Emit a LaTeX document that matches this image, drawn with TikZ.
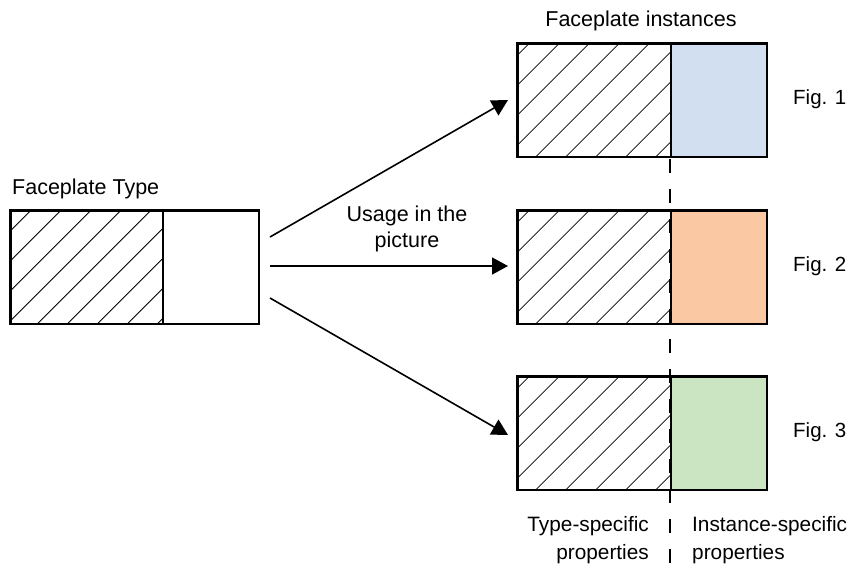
\documentclass[tikz,border=0pt]{standalone}
\usepackage{fontspec}
\setmainfont{Liberation Sans}
\usetikzlibrary{arrows.meta,calc}
\definecolor{instblue}{HTML}{D1DFF0}
\definecolor{instorange}{HTML}{FAC8A3}
\definecolor{instgreen}{HTML}{CBE5C3}
\begin{document}
\begin{tikzpicture}[x=1pt,y=-1pt,
  half/.style={draw=black, line width=1.6pt, inner sep=0pt, anchor=north west, minimum height=113pt},
  typehalf/.style={half, minimum width=152pt},
  insthalf/.style={half, minimum width=96pt},
  hatch/.style={line width=0.8pt},
  conn/.style={line width=1.6pt, -{Triangle[length=16pt,width=17pt]}},
  lbl/.style={font=\fontsize{21.5}{26}\selectfont, inner sep=0pt},
  botlbl/.style={font=\fontsize{20.8}{28}\selectfont, inner sep=0pt},
  figlbl/.style={font=\fontsize{20.5}{25}\selectfont, inner sep=0pt, anchor=west},
  sep/.style={line width=1.4pt, dash pattern=on 14pt off 16pt}
]
\useasboundingbox (0,0) rectangle (858,571);
% dashed separator
\coordinate (sepTop) at (670,159);
\coordinate (sepBot) at (670,563);
\draw[sep] (sepTop) -- (sepBot);

% Faceplate type
\node[typehalf] (tA) at (10,210) {};
\node[insthalf] (tB) at (162,210) {};
\begin{scope}
  \clip (tA.north west) rectangle (tA.south east);
  \foreach \k in {-5,...,6} {
    \draw[hatch] ($(tA.south west)+(26.7+30*\k,0)$) -- ++(113,-113);
  }
\end{scope}
\draw[line width=1.6pt] (tA.north west) rectangle (tB.south east);
\draw[line width=1.6pt] (tA.north east) -- (tA.south east);

% instances
\foreach \n/\y/\c in {1/43/instblue,2/210/instorange,3/376/instgreen} {
  \node[half, minimum width=153pt] (i\n A) at (517,\y) {};
  \node[insthalf, fill=\c] (i\n B) at (670,\y) {};
  \begin{scope}
    \clip (i\n A.north west) rectangle (i\n A.south east);
    \foreach \k in {-5,...,6} {
      \draw[hatch] ($(i\n A.south west)+(18+30*\k,0)$) -- ++(113,-113);
    }
  \end{scope}
  \draw[line width=1.6pt] (i\n A.north west) rectangle (i\n B.south east);
  \draw[line width=1.6pt] (i\n A.north east) -- (i\n A.south east);
}

% connectors
\coordinate (s1) at (270,237);
\coordinate (s2) at (270,266);
\coordinate (s3) at (270,298);
\coordinate (e1) at (508,100);
\coordinate (e2) at (508,266);
\coordinate (e3) at (508,435);
\draw[conn] (s1) -- (e1);
\draw[conn] (s2) -- (e2);
\draw[conn] (s3) -- (e3);

% labels
\node[lbl, anchor=base west] (ftl) at (12,194) {Faceplate Type};
\node[lbl, anchor=base] (fil) at (641,26) {Faceplate instances};
\node[figlbl] (f1) at (793,99) {Fig. 1};
\node[figlbl] (f2) at (793,266) {Fig. 2};
\node[figlbl] (f3) at (793,432) {Fig. 3};
\node[lbl, align=center] (use) at (407,229) {Usage in the\\picture};
\node[botlbl, align=right, anchor=east] (tsp) at (649,540) {Type-specific\\properties};
\node[botlbl, align=left, anchor=west] (isp) at (692,540) {Instance-specific\\properties};
\end{tikzpicture}
\end{document}
